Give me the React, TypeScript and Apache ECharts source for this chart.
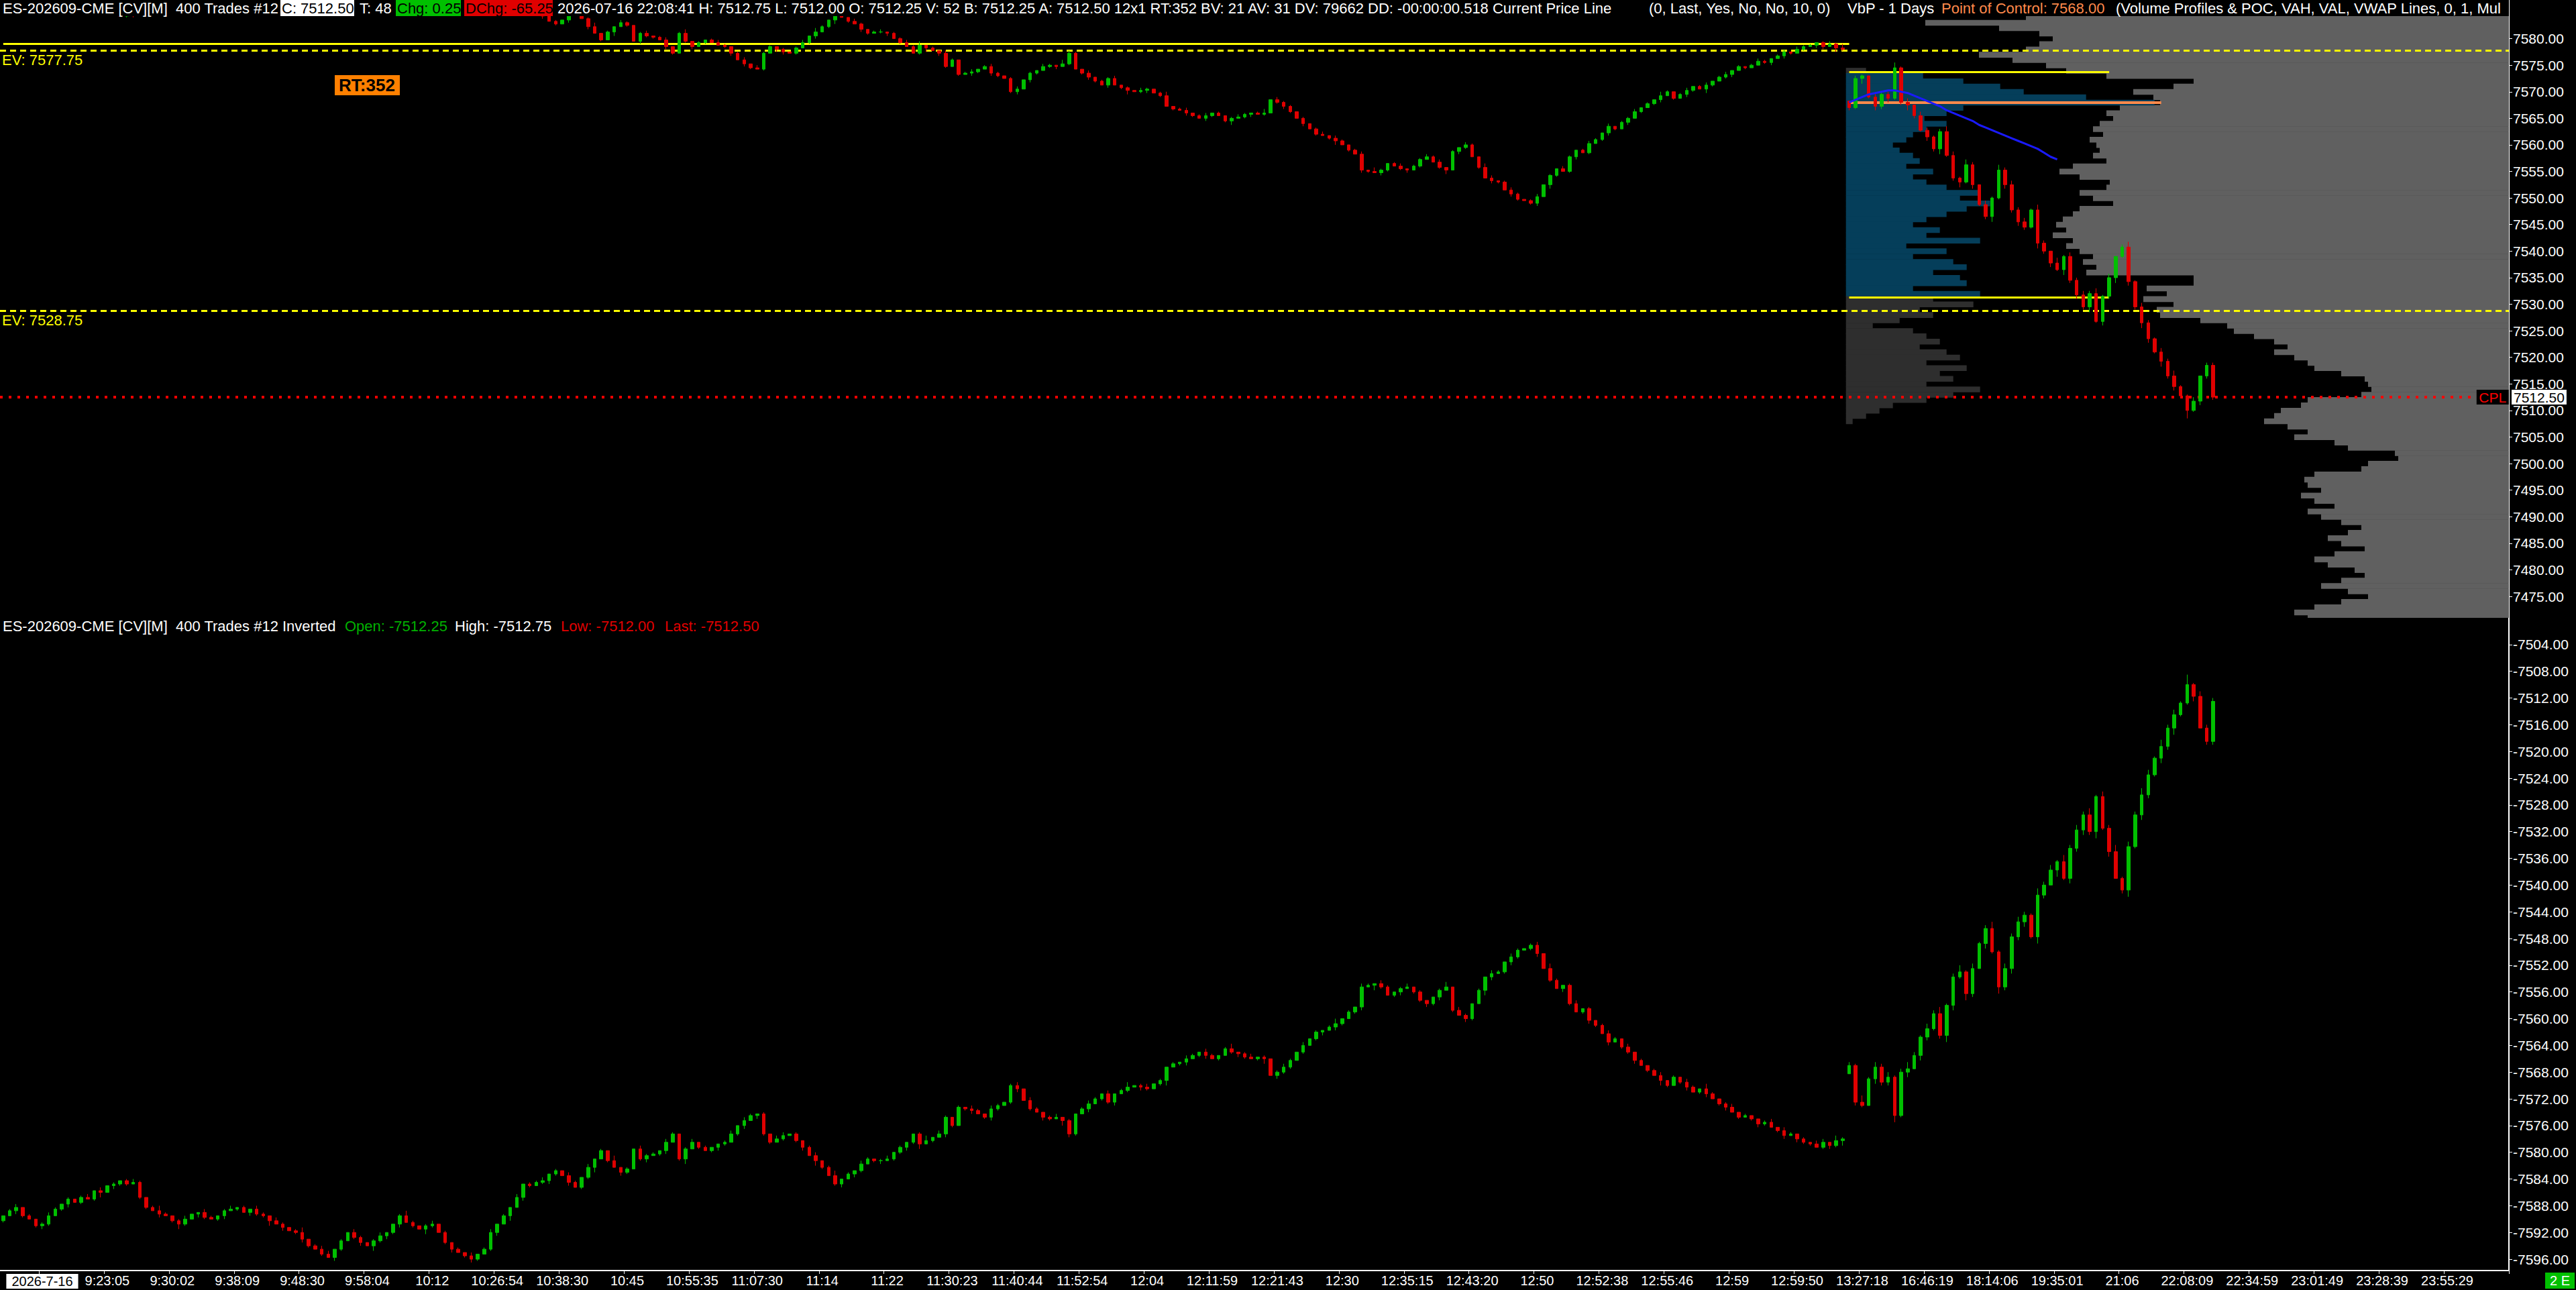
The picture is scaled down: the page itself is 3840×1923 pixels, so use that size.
import { useEffect, useRef } from "react";
import * as echarts from "echarts";

// ---------------- data ----------------
const timeLabels = [
  "2026-7-16", "9:23:05", "9:30:02", "9:38:09", "9:48:30", "9:58:04", "10:12", "10:26:54", "10:38:30", "10:45",
  "10:55:35", "11:07:30", "11:14", "11:22", "11:30:23", "11:40:44", "11:52:54", "12:04", "12:11:59", "12:21:43",
  "12:30", "12:35:15", "12:43:20", "12:50", "12:52:38", "12:55:46", "12:59", "12:59:50", "13:27:18", "16:46:19",
  "18:14:06", "19:35:01", "21:06", "22:08:09", "22:34:59", "23:01:49", "23:28:39", "23:55:29",
];
const LABEL_START = 6;
const BARS_PER_LABEL = 10;
const TOTAL_SLOTS = 386;

const firstOpen = 7590.25;
const sessionStartIndex = 284;
const sessionOpen = 7568.25;

const closes = [
  7589.5, 7588.75, 7588.25, 7589.5, 7590, 7591, 7590.75, 7589.5, 7588.5, 7587.75,
  7587, 7587.5, 7586.75, 7587, 7585.75, 7586, 7585, 7584.75, 7584.25, 7584.75,
  7584.5, 7586.75, 7588.25, 7588.75, 7589.25, 7589.5, 7590.25, 7590.75, 7590, 7589.25,
  7589, 7589.75, 7590, 7589.5, 7588.75, 7588.5, 7588.25, 7589, 7588.5, 7589.25,
  7589.5, 7590.25, 7590.75, 7591.25, 7591.75, 7592, 7593, 7594, 7594.5, 7595.25,
  7595.75, 7594.5, 7593.25, 7592, 7592.75, 7593.5, 7594, 7593.25, 7592.5, 7592,
  7590.75, 7589.5, 7590.5, 7591, 7591.5, 7591, 7590.75, 7592, 7593.5, 7594.5,
  7595, 7595.5, 7596, 7595.25, 7594.5, 7592, 7590.75, 7589.5, 7588.25, 7586.75,
  7584.75, 7585, 7584.5, 7584.25, 7583.25, 7582.75, 7583.5, 7584.5, 7585.25, 7583.75,
  7582.25, 7581, 7579.75, 7581.25, 7582.25, 7583, 7582.5, 7579.5, 7581, 7580.5,
  7580.25, 7579.75, 7578.5, 7577.25, 7581, 7579.5, 7578.5, 7579.25, 7579.75, 7579.25,
  7578.75, 7578.5, 7577.25, 7576, 7575.25, 7574.5, 7574.25, 7577.25, 7578.5, 7578,
  7577.5, 7577.25, 7578.25, 7579.25, 7580.5, 7581.25, 7582.25, 7583.5, 7584.75, 7584,
  7583.25, 7582.75, 7581.75, 7581, 7581.25, 7581.25, 7581, 7580, 7579.25, 7578.5,
  7577.25, 7578.75, 7578.25, 7577.75, 7577.25, 7574.75, 7576, 7573.25, 7573.5, 7573.75,
  7574.25, 7574.75, 7573.5, 7573, 7572.5, 7570, 7570.5, 7572.25, 7573.5, 7574,
  7574.75, 7575, 7574.75, 7575.25, 7577.25, 7574.25, 7573.5, 7572.75, 7572, 7571.25,
  7572.5, 7571.25, 7570.75, 7570.25, 7570, 7570.25, 7570.5, 7569.75, 7569.25, 7567.25,
  7566.75, 7566.5, 7566, 7565.5, 7565, 7565.5, 7566, 7565.5, 7564.5, 7565,
  7565.25, 7565.75, 7566, 7565.75, 7566, 7568.5, 7568, 7567.25, 7566.25, 7565,
  7564, 7563, 7562, 7561.75, 7561.25, 7560.75, 7560, 7559, 7558.25, 7555.25,
  7555, 7554.75, 7555.25, 7556.5, 7556, 7555.5, 7555.25, 7556, 7557.25, 7557.75,
  7556.75, 7555.75, 7555.25, 7558.75, 7559.5, 7560, 7557.75, 7555.75, 7553.75, 7553.25,
  7553, 7551.5, 7550.75, 7549.75, 7549.5, 7549, 7550.25, 7552.5, 7554.25, 7555.5,
  7555, 7557.75, 7559, 7558.5, 7560.25, 7561, 7562.25, 7563.5, 7563, 7564.25,
  7565, 7566.25, 7567, 7567.75, 7568.5, 7569.25, 7570, 7568.75, 7569.5, 7570.25,
  7571, 7570.5, 7571.25, 7572, 7572.75, 7573.25, 7574, 7574.75, 7574.5, 7575,
  7575.75, 7575.5, 7576.25, 7576.75, 7577.5, 7577.25, 7578, 7578.5, 7578.75, 7579.25,
  7578.5, 7579, 7578.25, 7578, 7567, 7572.5, 7573, 7569, 7567.25, 7569.5,
  7568.75, 7574.5, 7568, 7567.5, 7565.5, 7562.75, 7561.5, 7559.25, 7562.5, 7558,
  7553.75, 7553, 7556.25, 7552.5, 7548.75, 7546.5, 7550, 7555.25, 7552.5, 7547.75,
  7545.5, 7544.5, 7547.75, 7541.5, 7540, 7537.75, 7536.5, 7539, 7534.5, 7531.75,
  7529.5, 7532, 7526.75, 7531.5, 7535, 7539, 7540.75, 7534.25, 7529.5, 7526.5,
  7523.5, 7521, 7519.25, 7516.5, 7514.5, 7512.75, 7510, 7511.75, 7516.5, 7518.5, 7512.5,
];

// wick lengths in ticks (0.25) above / below each candle body
const wickUpTicks =
  "1021012101 2010130211 0110201310 2101201021 1302012101 0210120312 1201031012 0121012030 2101210201 1301021012 " +
  "0120130101 2101202110 1012031012 0210120112 1301021012 0121012010 2103210201 1201021013 0120120101 2101302110 " +
  "1012021012 0310120112 1201021032 0121012010 2101210201 1201031012 0120120101 2101202110 1213021032 2413032124 " +
  "3142031423 2314204132 3241302413 2132411302 2";
const wickDownTicks =
  "0120101210 1012020101 2101310120 0210120102 1021013012 2010210120 0131012010 1020120102 0112010210 2010301021 " +
  "1021012010 0120210102 2010120130 1021012010 0130210102 1021012021 0120101210 2013012010 1021021013 0120101210 " +
  "2010130102 1021012010 0130210102 1021012031 0120101210 2010120102 1031012010 0120210102 2031214132 3124213241 " +
  "2413124132 3214231423 2413241324 3142316132 2";

const topAxisTicks = [
  7475, 7480, 7485, 7490, 7495, 7500, 7505, 7510, 7515, 7520, 7525,
  7530, 7535, 7540, 7545, 7550, 7555, 7560, 7565, 7570, 7575, 7580,
];
const bottomAxisTicks = [
  -7504, -7508, -7512, -7516, -7520, -7524, -7528, -7532, -7536, -7540, -7544, -7548,
  -7552, -7556, -7560, -7564, -7568, -7572, -7576, -7580, -7584, -7588, -7592, -7596,
];

// multi-day volume profile (right anchored), one row per point, from 7587 down
const greyProfileTop = 7587;
const greyProfileVolume = [
  6900, 7000, 6800, 7200, 8700, 7600, 7000, 6800, 7000, 7200,
  7900, 7400, 6900, 6600, 6000, 4700, 5000, 5600, 5300, 5200,
  5800, 6000, 5900, 6100, 6200, 6050, 6250, 6150, 6100, 6200,
  6000, 6500, 6700, 6400, 5950, 6000, 6400, 6200, 5900, 6400,
  6500, 6650, 6750, 6600, 6800, 6500, 6600, 6400, 6200, 6350,
  6150, 6300, 4700, 4700, 5400, 5100, 5450, 5000, 5250, 5200,
  4600, 4200, 4100, 3800, 3500, 3300, 3500, 3200, 3000, 2900,
  2500, 2150, 2100, 2050, 2200, 3000, 3100, 3400, 3500, 3650,
  3300, 3000, 3200, 2600, 2400, 1700, 1650, 2100, 2200, 2900,
  3050, 3000, 2800, 3100, 2900, 2600, 3000, 2800, 2500, 2200,
  2400, 2700, 2500, 2150, 2600, 2900, 2700, 2300, 2150, 2500,
  2800, 2400, 2100, 2500, 2900, 3200, 3000,
];

// current session profile (left anchored at session start), from 7574 down
const dayProfileTop = 7574;
const dayProfileVolume = [
  300, 1150, 1750, 2300, 2650, 3580, 4600, 1750, 1500, 1170,
  1500, 1200, 1000, 900, 700, 800, 1000, 1100, 900, 1300,
  1000, 1200, 1500, 2000, 1700, 2150, 1800, 1500, 1200, 1000,
  1400, 1200, 2000, 900, 1500, 1000, 1600, 1800, 1300, 1700,
  1800, 1000, 2000, 1300, 1900, 1100, 1300, 800, 400, 1000,
  1200, 1400, 1100, 1500, 1700, 1200, 1800, 1400, 1600, 1200,
  2000, 1600, 1200, 700, 500, 300, 100,
];

const vwapValues = [
  7568, 7568.5, 7569, 7569.5, 7569.75, 7570, 7570.25, 7570.25, 7570, 7569.75,
  7569.25, 7568.75, 7568.25, 7567.75, 7567.25, 7566.5, 7566, 7565.5, 7565, 7564.5,
  7563.75, 7563.25, 7562.75, 7562.25, 7561.75, 7561.25, 7560.75, 7560.25, 7559.75, 7559.25,
  7558.5, 7557.75, 7557.25,
];

const evHigh = 7577.75;
const evLow = 7528.75;
const priorLevel = 7579;
const vah = 7573.75;
const val = 7531.25;
const poc = 7568;
const lastPrice = 7512.5;
const vaLinesEndIndex = 324;
const pocLineEndIndex = 332;
const cplBoxIndex = 383;

// ---------------- style / layout ----------------
const FONT = '"Liberation Sans", Arial, sans-serif';
const PLOT_W = 3740;
const TOP_H = 921;
const BOTTOM_TOP = 921;
const BOTTOM_H = 973;
const TOP_MIN = 7470.96;
const TOP_MAX = 7587.27;
const BOTTOM_MIN = -7597.7;
const BOTTOM_MAX = -7500;
const GREY_PX_PER_VOL = 0.1;
const DAY_PX_PER_VOL = 0.1;
const UP = "#00c000";
const DOWN = "#e00000";
const YELLOW = "#ffff00";
const ORANGE = "#ff8a4c";
const HEAD_FS = 22;

function parseTicks(s: string): number[] {
  return s.replace(/\s+/g, "").split("").map(Number);
}

function buildOption() {
  const wu = parseTicks(wickUpTicks);
  const wd = parseTicks(wickDownTicks);
  const ohlc = closes.map((c, i) => {
    const o = i === 0 ? firstOpen : i === sessionStartIndex ? sessionOpen : closes[i - 1];
    const hi = Math.max(o, c) + (wu[i] || 0) * 0.25;
    const lo = Math.min(o, c) - (wd[i] || 0) * 0.25;
    return [o, c, lo, hi];
  });
  const inverted = ohlc.map(([o, c, lo, hi]) => [-o, -c, -hi, -lo]);
  const cats = Array.from({ length: TOTAL_SLOTS }, (_, i) => String(i));
  const isLabel = (i: number) =>
    i >= LABEL_START &&
    (i - LABEL_START) % BARS_PER_LABEL === 0 &&
    (i - LABEL_START) / BARS_PER_LABEL < timeLabels.length;
  const vwapSeries = closes.map((_, i) =>
    i >= sessionStartIndex && i < sessionStartIndex + vwapValues.length ? vwapValues[i - sessionStartIndex] : "-"
  );

  const greyRender = (params: any, api: any) => {
    const price = api.value(1);
    const vol = api.value(2);
    const yTop = api.coord([0, price + 0.5])[1];
    const yBot = api.coord([0, price - 0.5])[1];
    const cs = params.coordSys;
    const right = cs.x + cs.width;
    const w = vol * GREY_PX_PER_VOL;
    const r = echarts.graphic.clipRectByRect(
      { x: right - w, y: yTop, width: w, height: yBot - yTop + 0.6 },
      { x: cs.x, y: cs.y, width: cs.width, height: cs.height }
    );
    return r ? { type: "rect", shape: r, style: { fill: "#606060" } } : null;
  };
  const dayRender = (params: any, api: any) => {
    const idx = api.value(0);
    const price = api.value(1);
    const vol = api.value(2);
    const band = api.size([1, 0])[0];
    const x0 = api.coord([idx, price])[0] - band / 2;
    const yTop = api.coord([idx, price + 0.5])[1];
    const yBot = api.coord([idx, price - 0.5])[1];
    const inVA = price < vah && price > val;
    return {
      type: "rect",
      shape: { x: x0, y: yTop, width: vol * DAY_PX_PER_VOL, height: yBot - yTop + 0.6 },
      style: { fill: inVA ? "#053e5a" : "#2e2e2e" },
    };
  };

  const axisLabelY = (ticks: number[]) => ({
    customValues: ticks,
    formatter: (v: number) => v.toFixed(2),
    color: "#fff",
    fontFamily: FONT,
    fontSize: 21,
    margin: 6,
  });

  const headerItems: any[] = [
    { x: 4, text: "ES-202609-CME [CV][M]  400 Trades #12", color: "#fff" },
    { x: 420, text: "C: 7512.50", color: "#000", bg: "#ffffff", bw: 110 },
    { x: 536, text: "T: 48", color: "#fff" },
    { x: 592, text: "Chg: 0.25", color: "#000", bg: "#00c000", bw: 97 },
    { x: 694, text: "DChg: -65.25", color: "#000", bg: "#e00000", bw: 132 },
    {
      x: 831,
      text: "2026-07-16 22:08:41 H: 7512.75 L: 7512.00 O: 7512.25 V: 52 B: 7512.25 A: 7512.50 12x1 RT:352 BV: 21 AV: 31 DV: 79662 DD: -00:00:00.518 Current Price Line",
      color: "#fff",
    },
    { x: 2458, text: "(0, Last, Yes, No, No, 10, 0)", color: "#fff" },
    { x: 2754, text: "VbP - 1 Days", color: "#fff" },
    { x: 2894, text: "Point of Control: 7568.00", color: ORANGE },
    { x: 3154, text: "(Volume Profiles & POC, VAH, VAL, VWAP Lines, 0, 1, Mul", color: "#fff" },
  ];
  const lowerHeader = [
    { x: 4, text: "ES-202609-CME [CV][M]  400 Trades #12 Inverted", color: "#fff" },
    { x: 514, text: "Open: -7512.25", color: "#00b000" },
    { x: 678, text: "High: -7512.75", color: "#fff" },
    { x: 836, text: "Low: -7512.00", color: "#e00000" },
    { x: 991, text: "Last: -7512.50", color: "#e00000" },
  ];

  const graphics: any[] = [
    { type: "rect", z: 100, shape: { x: 0, y: 0, width: PLOT_W, height: 24 }, style: { fill: "#000" } },
  ];
  headerItems.forEach((h) => {
    if (h.bg) graphics.push({ type: "rect", z: 101, shape: { x: h.x - 2, y: 0, width: h.bw, height: 24 }, style: { fill: h.bg } });
    graphics.push({
      type: "text", z: 102, x: h.x, y: 1,
      style: { text: h.text, fill: h.color, fontSize: HEAD_FS, fontFamily: FONT, verticalAlign: "top" },
    });
  });
  lowerHeader.forEach((h) => {
    graphics.push({
      type: "text", z: 102, x: h.x, y: 922,
      style: { text: h.text, fill: h.color, fontSize: HEAD_FS, fontFamily: FONT, verticalAlign: "top" },
    });
  });
  graphics.push(
    { type: "rect", z: 101, shape: { x: 499, y: 112, width: 97, height: 30 }, style: { fill: "#ff8000" } },
    {
      type: "text", z: 102, x: 547, y: 127,
      style: { text: "RT:352", fill: "#000", fontSize: 26, fontWeight: "bold", fontFamily: FONT, align: "center", verticalAlign: "middle" },
    },
    { type: "rect", z: 101, shape: { x: 3794, y: 1897, width: 44, height: 24 }, style: { fill: "#00c000" } },
    {
      type: "text", z: 102, x: 3816, y: 1909,
      style: { text: "2 E", fill: "#fff", fontSize: 20, fontFamily: FONT, align: "center", verticalAlign: "middle" },
    }
  );

  const evLabel = (v: number) => ({
    show: true, position: "insideStartBottom", formatter: `EV: ${v.toFixed(2)}`,
    color: YELLOW, fontSize: HEAD_FS, fontFamily: FONT, distance: 3,
  });

  return {
    animation: false,
    backgroundColor: "#000",
    textStyle: { fontFamily: FONT },
    grid: [
      { left: 0, top: 0, width: PLOT_W, height: TOP_H, outerBoundsMode: "none", containLabel: false },
      { left: 0, top: BOTTOM_TOP, width: PLOT_W, height: BOTTOM_H, outerBoundsMode: "none", containLabel: false },
    ],
    xAxis: [
      { type: "category", gridIndex: 0, data: cats, boundaryGap: true, show: false },
      {
        type: "category", gridIndex: 1, data: cats, boundaryGap: true,
        axisLine: { show: true, lineStyle: { color: "#fff", width: 2 } },
        axisTick: { show: true, interval: (i: number) => isLabel(i), length: 5, lineStyle: { color: "#fff" } },
        axisLabel: {
          interval: (i: number) => isLabel(i),
          color: "#fff", fontFamily: FONT, fontSize: 20, margin: 5,
          formatter: (v: string) => {
            const k = (Number(v) - LABEL_START) / BARS_PER_LABEL;
            return k === 0 ? `{d|${timeLabels[0]}}` : timeLabels[k] || "";
          },
          rich: { d: { backgroundColor: "#fff", color: "#000", padding: [1, 8, 1, 8], fontSize: 20, fontFamily: FONT } },
        },
        splitLine: { show: false },
      },
    ],
    yAxis: [
      {
        type: "value", gridIndex: 0, position: "right", min: TOP_MIN, max: TOP_MAX,
        axisLine: { show: true, lineStyle: { color: "#fff", width: 2 } },
        axisTick: { show: true, customValues: topAxisTicks, length: 5, lineStyle: { color: "#fff" } },
        axisLabel: axisLabelY(topAxisTicks),
        splitLine: { show: false },
      },
      {
        type: "value", gridIndex: 1, position: "right", min: BOTTOM_MIN, max: BOTTOM_MAX,
        axisLine: { show: true, lineStyle: { color: "#fff", width: 2 } },
        axisTick: { show: true, customValues: bottomAxisTicks, length: 5, lineStyle: { color: "#fff" } },
        axisLabel: axisLabelY(bottomAxisTicks),
        splitLine: { show: false },
      },
    ],
    series: [
      {
        type: "custom", name: "greyProfile", xAxisIndex: 0, yAxisIndex: 0, z: 1,
        encode: { x: 0, y: 1 }, renderItem: greyRender,
        data: greyProfileVolume.map((v, i) => [0, greyProfileTop - i, v]),
        silent: true,
      },
      {
        type: "custom", name: "dayProfile", xAxisIndex: 0, yAxisIndex: 0, z: 2,
        encode: { x: 0, y: 1 }, renderItem: dayRender,
        data: dayProfileVolume.map((v, i) => [sessionStartIndex, dayProfileTop - i, v]),
        silent: true,
      },
      {
        type: "line", name: "levels", xAxisIndex: 0, yAxisIndex: 0, z: 3, data: [], silent: true,
        markLine: {
          symbol: ["none", "none"], silent: true, animation: false,
          data: [
            { yAxis: evHigh, lineStyle: { color: YELLOW, type: [9, 6], width: 3 }, label: evLabel(evHigh) },
            { yAxis: evLow, lineStyle: { color: YELLOW, type: [9, 6], width: 3 }, label: evLabel(evLow) },
            [
              { coord: [0, priorLevel], lineStyle: { color: YELLOW, type: "solid", width: 3 }, label: { show: false } },
              { coord: [sessionStartIndex, priorLevel] },
            ],
            [
              { coord: [sessionStartIndex, vah], lineStyle: { color: YELLOW, type: "solid", width: 3 }, label: { show: false } },
              { coord: [vaLinesEndIndex, vah] },
            ],
            [
              { coord: [sessionStartIndex, val], lineStyle: { color: YELLOW, type: "solid", width: 3 }, label: { show: false } },
              { coord: [vaLinesEndIndex, val] },
            ],
            [
              { coord: [sessionStartIndex, poc], lineStyle: { color: ORANGE, type: "solid", width: 4 }, label: { show: false } },
              { coord: [pocLineEndIndex, poc] },
            ],
            {
              yAxis: lastPrice, lineStyle: { color: "#ff0000", type: [4, 9], width: 4 },
              label: {
                show: true, position: "end", formatter: lastPrice.toFixed(2), distance: 4,
                backgroundColor: "#fff", color: "#000", padding: [1, 3, 0, 3], fontSize: 21, fontFamily: FONT,
              },
            },
          ],
        },
        markPoint: {
          silent: true, animation: false,
          data: [
            {
              coord: [cplBoxIndex, lastPrice], symbol: "rect", symbolSize: [48, 22],
              itemStyle: { color: "#000" },
              label: { show: true, position: "inside", formatter: "CPL", color: "#ff0000", fontSize: 21, fontFamily: FONT },
            },
          ],
        },
      },
      {
        type: "candlestick", name: "price", xAxisIndex: 0, yAxisIndex: 0, z: 5, clip: true,
        barWidth: 5, data: ohlc,
        itemStyle: { color: UP, color0: DOWN, borderColor: UP, borderColor0: DOWN, borderWidth: 1 },
      },
      {
        type: "line", name: "vwap", xAxisIndex: 0, yAxisIndex: 0, z: 6, data: vwapSeries,
        symbol: "none", lineStyle: { color: "#1a1aff", width: 3 }, silent: true,
      },
      {
        type: "candlestick", name: "inverted", xAxisIndex: 1, yAxisIndex: 1, z: 5, clip: true,
        barWidth: 5, data: inverted,
        itemStyle: { color: UP, color0: DOWN, borderColor: UP, borderColor0: DOWN, borderWidth: 1 },
      },
    ],
    graphic: graphics,
  };
}

export default function App() {
  const ref = useRef<HTMLDivElement>(null);
  useEffect(() => {
    document.body.style.margin = "0";
    document.body.style.background = "#000";
    const chart = echarts.init(ref.current as HTMLDivElement, null, { renderer: "svg" });
    chart.setOption(buildOption() as any);
    return () => chart.dispose();
  }, []);
  return <div ref={ref} style={{ width: 3840, height: 1923, background: "#000" }} />;
}
